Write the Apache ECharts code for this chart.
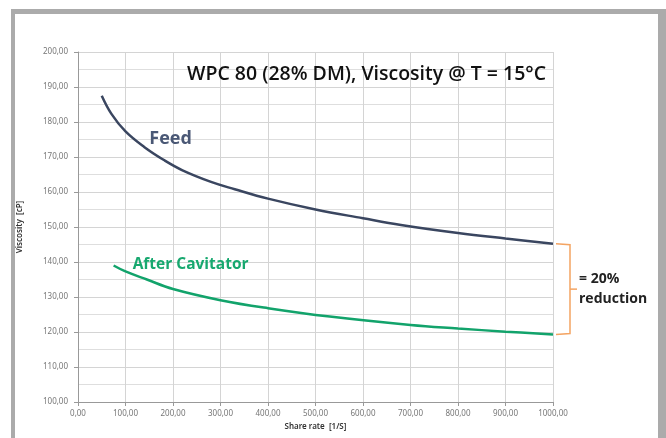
<!DOCTYPE html>
<html>
<head>
<meta charset="utf-8">
<script src="https://cdn.jsdelivr.net/npm/echarts@6/dist/echarts.min.js"></script>
<style>
  html, body { margin: 0; padding: 0; background: #ffffff; }
  #chart { width: 666px; height: 438px; }
</style>
</head>
<body>
<div id="chart"></div>
<script>
// values
var feedX = [50, 70, 100, 140, 180, 220, 280, 330, 400, 500, 600, 680, 800, 900, 1000];
var feedY = [187.5, 182.4, 177.3, 172.8, 169.2, 166.2, 162.9, 160.8, 158.1, 155.0, 152.5, 150.6, 148.3, 146.7, 145.2];
var afterX = [75, 100, 145, 200, 300, 400, 530, 700, 800, 900, 1000];
var afterY = [139.0, 137.3, 135.0, 132.3, 129.1, 126.8, 124.4, 122.0, 121.0, 120.1, 119.3];

var titleText = 'WPC 80 (28% DM), Viscosity @ T = 15°C';
var xName = 'Share rate  [1/S]';
var yName = 'Viscosity  [cP]';

function pairs(xs, ys) {
    var out = [];
    for (var i = 0; i < xs.length; i++) out.push([xs[i], ys[i]]);
    return out;
}
function fmt(v) {
    return v.toFixed(2).replace('.', ',');
}

var frameColor = '#ababab';
var chart = echarts.init(document.getElementById('chart'));

var option = {
    backgroundColor: '#ffffff',
    animation: false,
    grid: { left: 78, right: 113, top: 52, bottom: 36 },
    title: {
        text: titleText,
        left: 182, top: 59,
        textStyle: { fontFamily: 'Open Sans', fontSize: 19.5, fontWeight: 600, color: '#111' }
    },
    xAxis: {
        type: 'value', min: 0, max: 1000, interval: 100,
        name: xName, nameLocation: 'middle', nameGap: 21,
        nameTextStyle: { fontSize: 8, color: '#333', fontWeight: 600, fontFamily: 'Noto Sans' },
        axisLine: { lineStyle: { color: '#999', width: 1 } },
        axisTick: { show: true, length: 4, lineStyle: { color: '#999' } },
        axisLabel: { fontSize: 8, color: '#777', margin: 8, formatter: fmt, fontFamily: 'Noto Sans' },
        splitLine: { show: true, lineStyle: { color: '#d4d4d4', width: 1 } }
    },
    yAxis: {
        type: 'value', min: 100, max: 200, interval: 10,
        name: yName, nameLocation: 'middle', nameGap: 54, nameRotate: 90,
        nameTextStyle: { fontSize: 8, color: '#333', fontWeight: 600, fontFamily: 'Noto Sans' },
        axisLine: { show: true, lineStyle: { color: '#999', width: 1 } },
        axisTick: { show: true, length: 4, lineStyle: { color: '#999' } },
        axisLabel: { fontSize: 8, color: '#777', margin: 10, formatter: fmt, fontFamily: 'Noto Sans' },
        splitLine: { show: true, lineStyle: { color: '#d4d4d4', width: 1 } },
        minorTick: { show: false, splitNumber: 2 },
        minorSplitLine: { show: true, lineStyle: { color: '#dedede', width: 1 } }
    },
    series: [
        {
            name: 'Feed', type: 'line', smooth: 0.4, showSymbol: false,
            data: pairs(feedX, feedY),
            lineStyle: { color: '#3a4660', width: 2.5 },
            itemStyle: { color: '#3a4660' }
        },
        {
            name: 'After Cavitator', type: 'line', smooth: 0.4, showSymbol: false,
            data: pairs(afterX, afterY),
            lineStyle: { color: '#12a36b', width: 2.5 },
            itemStyle: { color: '#12a36b' }
        }
    ]
};
chart.setOption(option);

// labels and bracket placed from the data coordinates
var pFeedLbl = chart.convertToPixel('grid', [150, 174.5]);
var pAfterLbl = chart.convertToPixel('grid', [115, 138.8]);
var pTop = chart.convertToPixel('grid', [1000, feedY[feedY.length - 1]]);
var pBot = chart.convertToPixel('grid', [1000, afterY[afterY.length - 1]]);
var bx = pTop[0] + 17;
var midY = (pTop[1] + pBot[1]) / 2;
var bracketColor = '#f4a462';

chart.setOption({
    graphic: [
        // outer frame
        { type: 'rect', shape: { x: 11, y: 9, width: 655, height: 5 }, style: { fill: frameColor }, silent: true },
        { type: 'rect', shape: { x: 11, y: 9, width: 4, height: 429 }, style: { fill: frameColor }, silent: true },
        { type: 'rect', shape: { x: 658, y: 9, width: 8, height: 429 }, style: { fill: frameColor }, silent: true },
        {
            type: 'text', x: pFeedLbl[0], y: pFeedLbl[1] - 11,
            style: { text: 'Feed', font: 'bold 18px "Open Sans"', fill: '#4a5875' }
        },
        {
            type: 'text', x: pAfterLbl[0], y: pAfterLbl[1] - 10,
            style: { text: 'After Cavitator', font: 'bold 15.5px "Open Sans"', fill: '#17a86f' }
        },
        {
            type: 'polyline',
            shape: { points: [[pTop[0] + 3, pTop[1]], [bx, pTop[1] + 1], [bx, pBot[1] - 1], [pBot[0] + 3, pBot[1]]] },
            style: { stroke: bracketColor, lineWidth: 1.5, fill: null }
        },
        {
            type: 'line',
            shape: { x1: bx, y1: midY, x2: bx + 7, y2: midY },
            style: { stroke: bracketColor, lineWidth: 1.5 }
        },
        {
            type: 'text', x: bx + 9, y: midY - 17,
            style: { text: '= 20%', font: 'bold 14px "Open Sans"', fill: '#222' }
        },
        {
            type: 'text', x: bx + 9, y: midY + 3,
            style: { text: 'reduction', font: 'bold 14px "Open Sans"', fill: '#222' }
        }
    ]
});
</script>
</body>
</html>
